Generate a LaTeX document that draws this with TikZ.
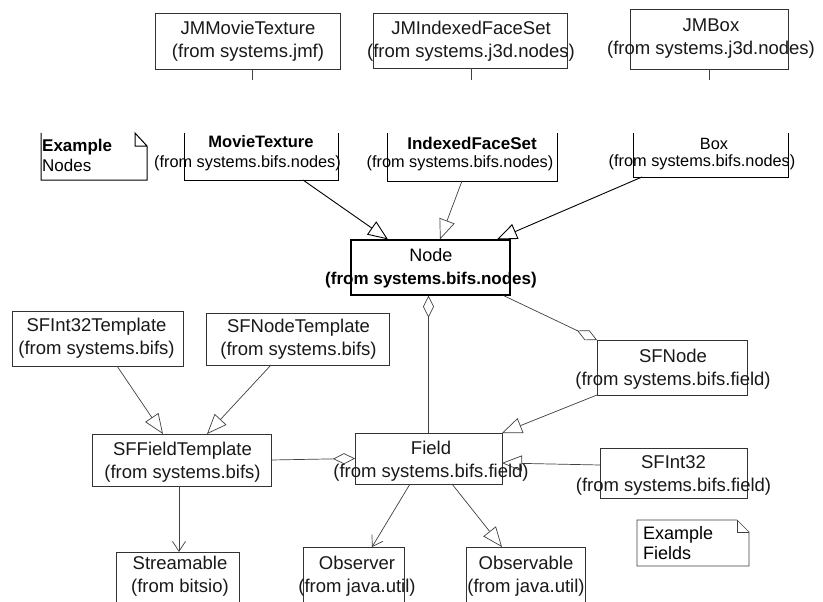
\documentclass[tikz,border=0pt]{standalone}
\usepackage{fontspec}
\setmainfont{Liberation Sans}
\usetikzlibrary{arrows.meta}
\begin{document}
\begin{tikzpicture}[x=1pt,y=-1pt,
  umlbox/.style={draw=black!80, line width=0.8pt, inner sep=0pt, outer sep=0pt},
  bare/.style={inner sep=0pt, outer sep=0pt},
  strong/.style={draw=black, line width=1pt},
  txt/.style={align=center, inner sep=0pt, text=black!90, font=\fontsize{18.5}{23}\selectfont},
  txtm/.style={align=center, inner sep=0pt, text=black, font=\fontsize{16.3}{20}\selectfont},
  conn/.style={draw=black!75, line width=0.7pt},
  inh/.style={conn, -{Triangle[open,length=20pt,width=16pt]}},
  inhs/.style={inh, draw=black, line width=0.9pt},
  agg/.style={conn, -{Diamond[open,length=22pt,width=11pt]}},
  dep/.style={conn, -{Straight Barb[length=10pt,width=13pt]}},
]
\clip (0,0) rectangle (823,602);
\fill[white] (0,0) rectangle (823,602);

% ---- top row (systems.jmf / j3d) ----
\node[umlbox, minimum width=185pt, minimum height=56pt] (jmmt) at (247.5,41) {};
\node[umlbox, minimum width=194pt, minimum height=55pt] (jmifs) at (470,40.5) {};
\node[umlbox, minimum width=158pt, minimum height=60pt] (jmbox) at (709,39) {};
\node[txt] (tjmmt) at (248,41) {JMMovieTexture\\(from systems.jmf)};
\node[txt] (tjmifs) at (471,41) {JMIndexedFaceSet\\(from systems.j3d.nodes)};
\node[txt] (tjmbox) at (711,39) {JMBox\\(from systems.j3d.nodes)};
\coordinate (c1) at (252,80);
\coordinate (c2) at (471,80);
\coordinate (c3) at (709,80);
\draw[conn] (c1 |- jmmt.south) -- (c1);
\draw[conn] (c2 |- jmifs.south) -- (c2);
\draw[conn] (c3 |- jmbox.south) -- (c3);

% ---- second row ----
\node[bare, minimum width=106pt, minimum height=47pt] (n1) at (94,156.5) {};
\draw[strong] (n1.north west) -- (n1.south west) -- (n1.south east)
  -- ([yshift=-13pt]n1.north east) -- ([xshift=-12pt]n1.north east)
  -- ([xshift=-12pt,yshift=-13pt]n1.north east) -- ([yshift=-13pt]n1.north east);
\node[align=left, anchor=west, inner sep=0pt, font=\fontsize{17}{20}\selectfont] (tn1) at (42,155)
  {\bfseries Example\\Nodes};

\node[bare, minimum width=154pt, minimum height=47pt] (mt) at (261,156.5) {};
\node[bare, minimum width=170pt, minimum height=48pt] (ifs) at (472,157) {};
\node[bare, minimum width=155pt, minimum height=44pt] (bx) at (710.5,155) {};
\draw[strong] (mt.north west) -- (mt.south west) -- (mt.south east) -- (mt.north east);
\draw[strong] (ifs.north west) -- (ifs.south west) -- (ifs.south east) -- (ifs.north east);
\draw[strong] (bx.north west) -- (bx.south west) -- (bx.south east) -- (bx.north east);
\node[txtm, font=\fontsize{16.5}{20}\selectfont\bfseries] (tmt1) at (261,142) {MovieTexture};
\node[txtm] (tmt2) at (247.5,163) {(from systems.bifs.nodes)};
\node[txtm, font=\fontsize{17}{20}\selectfont\bfseries] (tifs1) at (472,143) {IndexedFaceSet};
\node[txtm] (tifs2) at (460,163) {(from systems.bifs.nodes)};
\node[txtm] (tbx1) at (714,144) {Box};
\node[txtm] (tbx2) at (702,162) {(from systems.bifs.nodes)};

% ---- Node ----
\node[draw=black, line width=1.2pt, inner sep=0pt, minimum width=159pt, minimum height=55pt] (node) at (430.5,267.5) {};
\node[txt, text=black, font=\fontsize{18}{23}\selectfont] (tnode) at (431,268.5)
  {Node\\{\fontsize{17}{23}\selectfont\bfseries (from systems.bifs.nodes)}};

\draw[inhs] ([xshift=42pt]mt.south) -- ([xshift=-42.5pt]node.north);
\draw[inh] ([xshift=-10pt]ifs.south) -- ([xshift=9.5pt]node.north);
\draw[inhs] ([xshift=-68.5pt]bx.south) -- ([xshift=66.5pt]node.north);

% ---- lower section ----
\node[umlbox, minimum width=171pt, minimum height=55pt] (sfi32t) at (97.5,338.5) {};
\node[umlbox, minimum width=183pt, minimum height=52pt] (sfnt) at (297.5,339) {};
\node[umlbox, minimum width=150pt, minimum height=55pt] (sfnode) at (672,367.5) {};
\node[umlbox, minimum width=179pt, minimum height=52pt] (sfft) at (181.5,460) {};
\node[umlbox, minimum width=147pt, minimum height=51pt] (field) at (428.5,458.5) {};
\node[umlbox, minimum width=147pt, minimum height=50pt] (sfint32) at (673.5,473) {};
\node[umlbox, minimum width=123pt, minimum height=70pt] (streamable) at (177.5,587) {};
\node[umlbox, minimum width=101pt, minimum height=70pt] (observer) at (353.5,582) {};
\node[umlbox, minimum width=119pt, minimum height=70pt] (observable) at (525.5,582) {};

\node[txt] (tsfi32t) at (96.5,338.5) {SFInt32Template\\(from systems.bifs)};
\node[txt] (tsfnt) at (298.5,339) {SFNodeTemplate\\(from systems.bifs)};
\node[txt] (tsfnode) at (673,369) {SFNode\\(from systems.bifs.field)};
\node[txt] (tsfft) at (182.5,462) {SFFieldTemplate\\(from systems.bifs)};
\node[txt] (tfield) at (431,461.5) {Field\\(from systems.bifs.field)};
\node[txt] (tsfint32) at (673.5,475) {SFInt32\\(from systems.bifs.field)};
\node[txt] (tstream) at (180,576) {Streamable\\(from bitsio)};
\node[txt] (tobserver) at (357,576) {Observer\\(from java.util)};
\node[txt] (tobservable) at (526,576) {Observable\\(from java.util)};

% note: Example Fields
\node[bare, minimum width=112pt, minimum height=46pt] (n2) at (693,543) {};
\draw[conn] (n2.north west) -- (n2.south west) -- (n2.south east)
  -- ([yshift=-12pt]n2.north east) -- ([xshift=-12pt]n2.north east) -- cycle;
\draw[conn] ([xshift=-12pt]n2.north east) -- ([xshift=-12pt,yshift=-12pt]n2.north east) -- ([yshift=-12pt]n2.north east);
\node[align=left, anchor=west, inner sep=0pt, font=\fontsize{18}{20}\selectfont] (tn2) at (643,543) {Example\\Fields};

% connectors
\draw[agg] (field.north) -- (field.north |- node.south);
\draw[agg] ([xshift=-7pt]node.south east) -- (sfnode.north west);
\draw[inh] (sfnode.south west) -- (field.north east);
\draw[inh] ([yshift=8pt]sfint32.west) -- ([yshift=-4.5pt]field.east);
\draw[inh] ([xshift=19.5pt]sfi32t.south) -- ([xshift=-18.5pt]sfft.north);
\draw[inh] ([xshift=-26.5pt]sfnt.south) -- ([xshift=25.5pt]sfft.north);
\draw[agg] (sfft.east) -- (field.west);
\draw[dep] ([xshift=1.5pt]streamable.north |- sfft.south) -- ([xshift=1.5pt]streamable.north);
\draw[dep] ([xshift=-18.5pt]field.south) -- ([xshift=18.5pt]observer.north);
\draw[inh] ([xshift=23.5pt]field.south) -- ([xshift=-23.5pt]observable.north);
\end{tikzpicture}
\end{document}
